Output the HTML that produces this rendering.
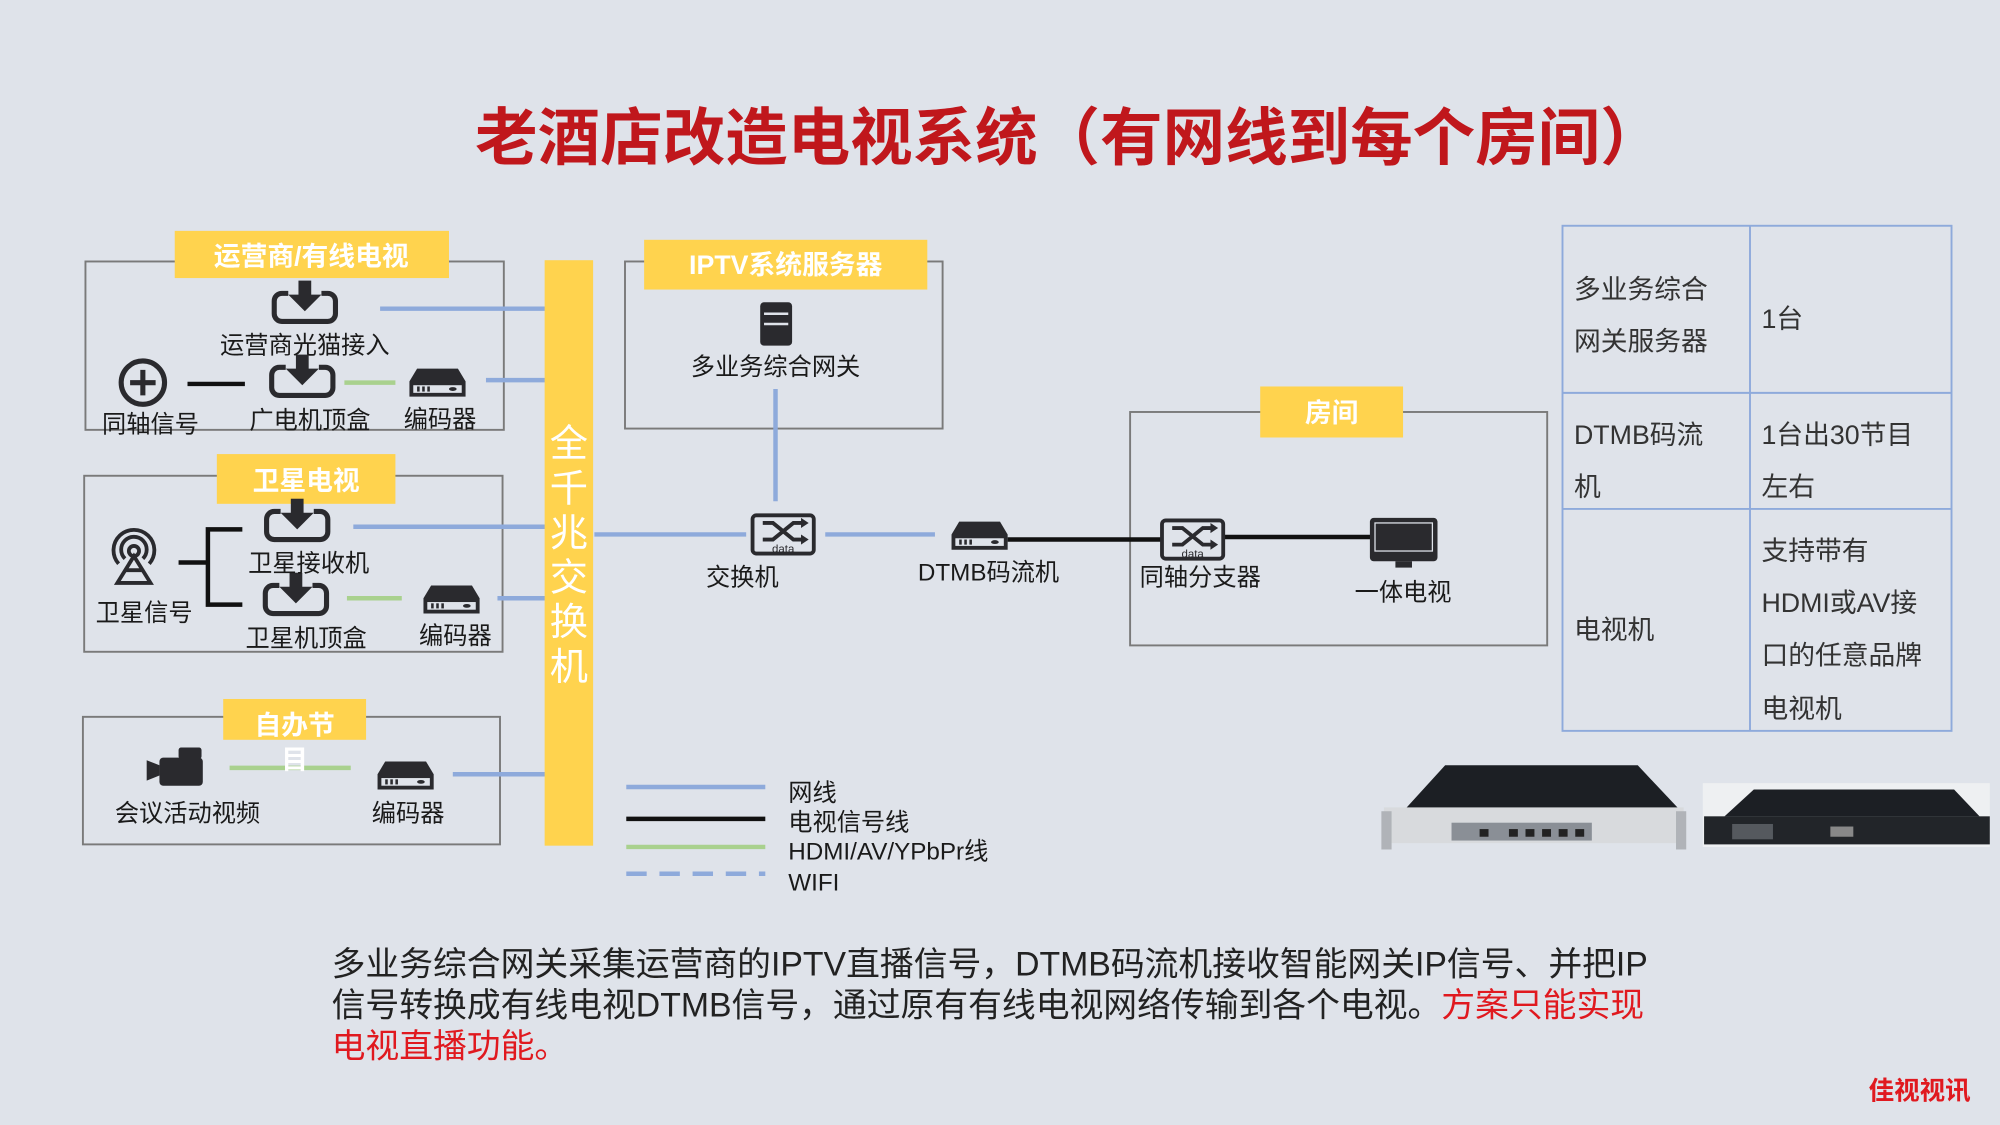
<!DOCTYPE html>
<html><head><meta charset="utf-8"><style>
html,body{margin:0;padding:0;background:#dfe3ea;}
svg{display:block}
text{font-family:"Liberation Sans","Noto Sans CJK SC",sans-serif;}
</style></head><body>
<svg width="2000" height="1125" viewBox="0 0 1568 882" xmlns="http://www.w3.org/2000/svg">
<defs>
<g id="dl">
 <rect x="-24" y="-10" width="48" height="22" rx="6" fill="none" stroke="#2a2a2e" stroke-width="4"/>
 <rect x="-13" y="-14" width="26" height="7" fill="#dfe3ea"/>
 <rect x="-5" y="-20" width="10" height="12" fill="#2a2a2e"/>
 <polygon points="-13,-9 13,-9 0,4" fill="#2a2a2e"/>
</g>
<g id="enc">
 <path d="M-22,-3 L-16,-13 H16 L22,-3 V9 H-22 Z" fill="#2a2a2e"/>
 <rect x="-19" y="0" width="38" height="6" fill="#dfe3ea"/>
 <rect x="-16" y="1" width="2" height="4" fill="#2a2a2e"/><rect x="-12" y="1" width="2" height="4" fill="#2a2a2e"/><rect x="-8" y="1" width="2" height="4" fill="#2a2a2e"/>
 <ellipse cx="12" cy="3" rx="3" ry="1.5" fill="#2a2a2e"/>
</g>
<g id="sw">
 <rect x="-24" y="-15" width="48" height="30" rx="3" fill="none" stroke="#2a2a2e" stroke-width="3"/>
 <path d="M-16,-9 H-8 L8,4 H16 M-16,4 H-8 L8,-9 H16" fill="none" stroke="#2a2a2e" stroke-width="3"/>
 <polygon points="14,-13 20,-9 14,-5" fill="#2a2a2e"/><polygon points="14,0 20,4 14,8" fill="#2a2a2e"/>
 <text x="0" y="14" font-size="9" text-anchor="middle" fill="#2a2a2e">data</text>
</g>
</defs>

<text x="838" y="125" font-size="49" font-weight="bold" fill="#c0171c" text-anchor="middle">老酒店改造电视系统（有网线到每个房间）</text>

<g fill="none" stroke="#7a7a7a" stroke-width="1.5">
 <rect x="67" y="205" width="328" height="132"/>
 <rect x="66" y="373" width="328" height="138"/>
 <rect x="65" y="562" width="327" height="100"/>
 <rect x="490" y="205" width="249" height="131"/>
 <rect x="886" y="323" width="327" height="183"/>
</g>

<g stroke="#8eaadb" stroke-width="3.5">
 <line x1="298" y1="242" x2="428" y2="242"/>
 <line x1="381" y1="298" x2="428" y2="298"/>
 <line x1="277" y1="413" x2="428" y2="413"/>
 <line x1="390" y1="469" x2="428" y2="469"/>
 <line x1="355" y1="607" x2="428" y2="607"/>
 <line x1="608" y1="305" x2="608" y2="393"/>
 <line x1="466" y1="419" x2="585" y2="419"/>
 <line x1="647" y1="419" x2="733" y2="419"/>
</g>
<g stroke="#a9d18e" stroke-width="3.5">
 <line x1="270" y1="300" x2="310" y2="300"/>
 <line x1="272" y1="469" x2="315" y2="469"/>
 <line x1="180" y1="602" x2="275" y2="602"/>
</g>
<g stroke="#111" stroke-width="3.5" fill="none">
 <line x1="147" y1="301" x2="192" y2="301"/>
 <path d="M140,441 H163 M190,415 H163 V474 H190"/>
 <line x1="790" y1="423" x2="910" y2="423"/>
 <line x1="960" y1="421" x2="1075" y2="421"/>
</g>

<g fill="#ffd34e">
 <rect x="137" y="181" width="215" height="37"/>
 <rect x="170" y="356" width="140" height="39"/>
 <rect x="175" y="548" width="112" height="32"/>
 <rect x="505" y="188" width="222" height="39"/>
 <rect x="988" y="303" width="112" height="40"/>
 <rect x="427" y="204" width="38" height="459"/>
</g>
<g fill="#fff" font-weight="bold" font-size="21" text-anchor="middle">
 <text x="244" y="208">运营商/有线电视</text>
 <text x="240" y="384">卫星电视</text>
 <text x="231" y="576">自办节</text>
 <text x="231" y="603">目</text>
 <text x="616" y="215">IPTV系统服务器</text>
 <text x="1044" y="331">房间</text>
</g>
<g fill="#fff" font-size="30" text-anchor="middle">
 <text x="446" y="358">全</text><text x="446" y="393">千</text><text x="446" y="428">兆</text>
 <text x="446" y="463">交</text><text x="446" y="498">换</text><text x="446" y="533">机</text>
</g>

<use href="#dl" x="239" y="240"/>
<use href="#dl" x="237" y="298"/>
<use href="#dl" x="233" y="411"/>
<use href="#dl" x="232" y="469"/>
<use href="#enc" x="343" y="302"/>
<use href="#enc" x="354" y="472"/>
<use href="#enc" x="318" y="610"/>
<circle cx="112" cy="300" r="17" fill="none" stroke="#2a2a2e" stroke-width="4"/>
<path d="M112,290 V310 M102,300 H122" stroke="#2a2a2e" stroke-width="4"/>
<g fill="none" stroke="#2a2a2e" stroke-width="3">
 <path d="M93,442 A16,16 0 1 1 117,442"/>
 <path d="M98,438 A10,10 0 1 1 112,438"/>
 <circle cx="105" cy="432" r="4"/>
 <path d="M105,436 L92,457 H118 Z M98,447 L112,447"/>
</g>
<g fill="#2a2a2e">
 <rect x="125" y="594" width="34" height="22" rx="3"/>
 <polygon points="125,600 115,596 115,612 125,608"/>
 <rect x="140" y="586" width="18" height="9" rx="2"/>
</g>
<rect x="596" y="237" width="25" height="34" rx="3" fill="#2a2a2e"/>
<g stroke="#dfe3ea" stroke-width="2"><line x1="599" y1="246" x2="618" y2="246"/><line x1="599" y1="254" x2="618" y2="254"/></g>
<use href="#sw" x="614" y="419"/>
<use href="#sw" x="935" y="423"/>
<use href="#enc" x="768" y="422"/>
<rect x="1074" y="406" width="53" height="34" rx="3" fill="#2a2a2e"/>
<rect x="1078" y="410" width="45" height="22" fill="#2a2a2e" stroke="#dfe3ea" stroke-width="1"/>
<rect x="1094" y="440" width="13" height="5" fill="#2a2a2e"/>

<g fill="#1a1a1a" font-size="19" text-anchor="middle">
 <text x="239" y="277">运营商光猫接入</text>
 <text x="118" y="339">同轴信号</text>
 <text x="243" y="336">广电机顶盒</text>
 <text x="345" y="335">编码器</text>
 <text x="113" y="487">卫星信号</text>
 <text x="242" y="448">卫星接收机</text>
 <text x="240" y="507">卫星机顶盒</text>
 <text x="357" y="505">编码器</text>
 <text x="147" y="644">会议活动视频</text>
 <text x="320" y="644">编码器</text>
 <text x="608" y="294">多业务综合网关</text>
 <text x="582" y="459">交换机</text>
 <text x="775" y="455">DTMB码流机</text>
 <text x="941" y="459">同轴分支器</text>
 <text x="1100" y="471">一体电视</text>
</g>

<line x1="491" y1="617" x2="600" y2="617" stroke="#8eaadb" stroke-width="3.5"/>
<line x1="491" y1="642" x2="600" y2="642" stroke="#111" stroke-width="3.5"/>
<line x1="491" y1="664" x2="600" y2="664" stroke="#a9d18e" stroke-width="3.5"/>
<line x1="491" y1="685" x2="600" y2="685" stroke="#8eaadb" stroke-width="3.5" stroke-dasharray="16,10"/>
<g fill="#1a1a1a" font-size="19">
 <text x="618" y="628">网线</text>
 <text x="618" y="651">电视信号线</text>
 <text x="618" y="674">HDMI/AV/YPbPr线</text>
 <text x="618" y="698">WIFI</text>
</g>

<g fill="none" stroke="#8eaadb" stroke-width="1.5">
 <rect x="1225" y="177" width="305" height="396"/>
 <line x1="1372" y1="177" x2="1372" y2="573"/>
 <line x1="1225" y1="308" x2="1530" y2="308"/>
 <line x1="1225" y1="399" x2="1530" y2="399"/>
</g>
<g fill="#333" font-size="21">
 <text x="1234" y="234">多业务综合</text><text x="1234" y="275">网关服务器</text>
 <text x="1381" y="257">1台</text>
 <text x="1234" y="348">DTMB码流</text><text x="1234" y="389">机</text>
 <text x="1381" y="348">1台出30节目</text><text x="1381" y="389">左右</text>
 <text x="1234" y="501">电视机</text>
 <text x="1381" y="439">支持带有</text><text x="1381" y="480">HDMI或AV接</text>
 <text x="1381" y="521">口的任意品牌</text><text x="1381" y="563">电视机</text>
</g>

<polygon points="1102,634 1133,600 1284,600 1316,634" fill="#1c1f24"/>
<rect x="1085" y="633" width="235" height="28" fill="#d8dadd"/>
<rect x="1138" y="645" width="110" height="14" fill="#8a8f96"/>
<g fill="#222"><rect x="1160" y="650" width="7" height="6"/><rect x="1183" y="650" width="7" height="6"/><rect x="1196" y="650" width="7" height="6"/><rect x="1209" y="650" width="7" height="6"/><rect x="1222" y="650" width="7" height="6"/><rect x="1235" y="650" width="7" height="6"/></g>
<rect x="1083" y="636" width="8" height="30" fill="#b0b3b8"/><rect x="1314" y="636" width="8" height="30" fill="#b0b3b8"/>
<rect x="1335" y="614" width="225" height="50" fill="#eef0f2"/>
<polygon points="1352,640 1375,619 1532,619 1552,640" fill="#1c1f24"/>
<rect x="1336" y="640" width="224" height="22" fill="#222529"/>
<rect x="1358" y="646" width="32" height="12" fill="#55595e"/>
<rect x="1435" y="648" width="18" height="8" fill="#888"/>

<g font-size="26.5" fill="#222">
 <text x="260" y="765">多业务综合网关采集运营商的IPTV直播信号，DTMB码流机接收智能网关IP信号、并把IP</text>
 <text x="260" y="797">信号转换成有线电视DTMB信号，通过原有有线电视网络传输到各个电视。<tspan fill="#e0191f">方案只能实现</tspan></text>
 <text x="260" y="829" fill="#e0191f">电视直播功能。</text>
</g>
<text x="1505" y="862" font-size="20" font-weight="bold" fill="#e0191f" text-anchor="middle">佳视视讯</text>
</svg>
</body></html>
